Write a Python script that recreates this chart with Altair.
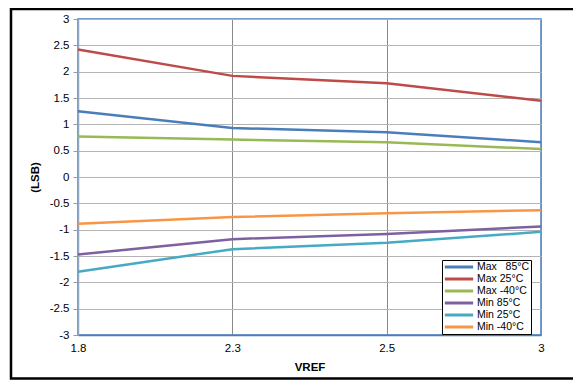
import altair as alt
import pandas as pd

vref = ["1.8", "2.3", "2.5", "3"]
series = ["Max\u00a0\u00a0 85°C", "Max 25°C", "Max -40°C", "Min 85°C", "Min 25°C", "Min -40°C"]
max_85 = [1.25, 0.93, 0.85, 0.66]
max_25 = [2.42, 1.92, 1.78, 1.45]
max_m40 = [0.77, 0.71, 0.66, 0.53]
min_85 = [-1.47, -1.18, -1.08, -0.94]
min_25 = [-1.80, -1.37, -1.25, -1.04]
min_m40 = [-0.89, -0.76, -0.69, -0.63]
colors = ["#4a7ebb", "#be4b48", "#98b954", "#7d60a0", "#46aac5", "#f79646"]

rows = []
for name, vals in zip(series, [max_85, max_25, max_m40, min_85, min_25, min_m40]):
    for x, v in zip(vref, vals):
        rows.append({"VREF": x, "LSB": v, "Series": name})
df = pd.DataFrame(rows)

yticks = [-3, -2.5, -2, -1.5, -1, -0.5, 0, 0.5, 1, 1.5, 2, 2.5, 3]

lines = alt.Chart(df).mark_line(strokeWidth=2.5, interpolate="linear").encode(
    x=alt.X("VREF:N", sort=vref, scale=alt.Scale(type="point", padding=0),
            axis=alt.Axis(title="VREF", labelAngle=0, grid=True, gridColor="#8a8a8a",
                          domainColor="#4a7ebb", domainWidth=1.5, ticks=False,
                          labelPadding=7, titlePadding=8)),
    y=alt.Y("LSB:Q", scale=alt.Scale(domain=[-3, 3], nice=False),
            axis=alt.Axis(title="(LSB)", values=yticks, labelExpr="datum.value + ''",
                          gridColor="#b4b4b4", domainColor="#8ea9c8", domainWidth=1.5,
                          tickColor="#9a9a9a", tickSize=5, labelPadding=4,
                          titleX=-38)),
    color=alt.Color("Series:N", sort=series,
                    scale=alt.Scale(domain=series, range=colors),
                    legend=alt.Legend(title=None, orient="none", legendX=364, legendY=241,
                                      fillColor="white", strokeColor="black", padding=1,
                                      symbolType="stroke", symbolSize=800, symbolStrokeWidth=3,
                                      clipHeight=12, labelFontSize=10.5, labelOffset=2,
                                      rowPadding=0, labelFont="Liberation Sans",
                                      labelColor="black")),
)

frame = alt.Chart(pd.DataFrame({"a": [0]})).mark_rect(
    fill=None, stroke="black", strokeWidth=2.5, clip=False
).encode(x=alt.value(-67), x2=alt.value(600), y=alt.value(-10), y2=alt.value(359.5))

chart = alt.layer(lines, frame).properties(
    width=463, height=316,
    autosize=alt.AutoSizeParams(type="none"),
    padding={"left": 70, "top": 11, "right": 32, "bottom": 45},
).configure_view(stroke="#4a7ebb", strokeWidth=1.5).configure_axis(
    labelFont="Liberation Sans", titleFont="Liberation Sans", labelFontSize=11.5,
    titleFontSize=11.5, labelColor="black", titleColor="black", titleFontWeight="bold",
    gridWidth=1,
)

chart.save("out.html", embed_options={"renderer": "svg", "actions": False})
